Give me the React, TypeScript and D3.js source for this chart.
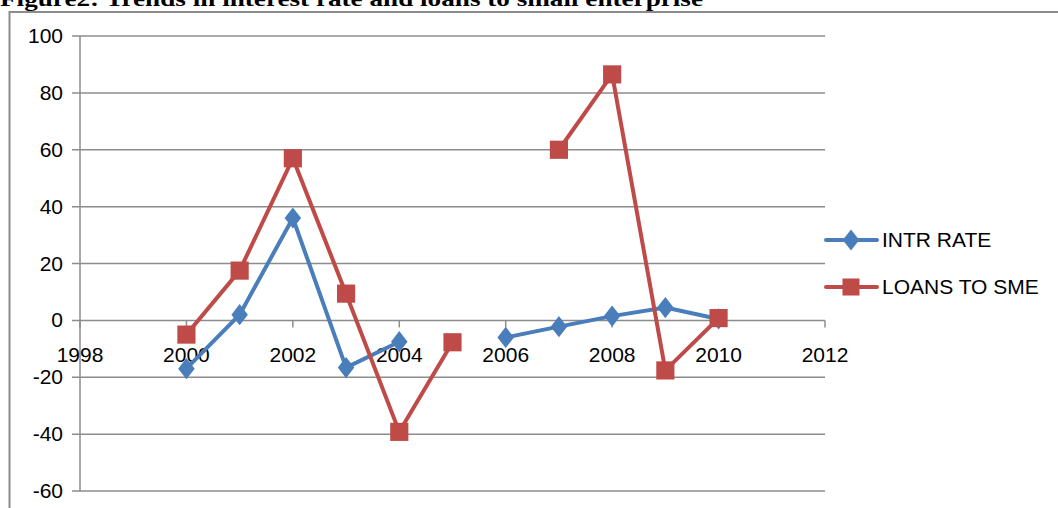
import { useEffect, useRef } from "react";
import * as d3 from "d3";

const years = [2000, 2001, 2002, 2003, 2004, 2005, 2006, 2007, 2008, 2009, 2010];
const intrRate: (number | null)[] = [-17, 2, 36, -16.6, -7.5, null, -6, -2.2, 1.5, 4.5, 0.5];
const loansToSme: (number | null)[] = [-5, 17.5, 57, 9.4, -39.2, -7.7, null, 60, 86.5, -17.6, 0.8];
const xTicks = [1998, 2000, 2002, 2004, 2006, 2008, 2010, 2012];
const yTicks = [-60, -40, -20, 0, 20, 40, 60, 80, 100];

const W = 1058,
  H = 508;
const BLUE = "#4a7ebb";
const RED = "#be4b48";
const GRID = "#8c8c8c";
const FONT = "'Liberation Sans', Arial, sans-serif";

const Chart = () => {
  const ref = useRef<SVGSVGElement>(null);

  useEffect(() => {
    const svg = d3.select(ref.current);
    svg.selectAll("*").remove();

    const x = d3.scaleLinear().domain([1998, 2012]).range([80, 825]);
    const y = d3.scaleLinear().domain([-60, 100]).range([491, 36]);

    // title (cut off at top, as in the scan)
    svg
      .append("text")
      .attr("x", 0)
      .attr("y", 6)
      .attr("font-family", "'Liberation Serif', 'Times New Roman', serif")
      .attr("font-weight", "bold")
      .attr("font-size", 22)
      .attr("textLength", 703)
      .attr("lengthAdjust", "spacingAndGlyphs")
      .text("Figure2: Trends in interest rate and loans to small enterprise");

    // outer chart border (top + left)
    svg
      .append("path")
      .attr("d", `M9.5,${H} V12 H${W}`)
      .attr("fill", "none")
      .attr("stroke", GRID)
      .attr("stroke-width", 2);

    // gridlines
    svg
      .append("g")
      .selectAll("line")
      .data(yTicks)
      .enter()
      .append("line")
      .attr("x1", 72)
      .attr("x2", 825)
      .attr("y1", (d) => y(d))
      .attr("y2", (d) => y(d))
      .attr("stroke", GRID)
      .attr("stroke-width", 1.5);

    // y axis line
    svg
      .append("line")
      .attr("x1", 80)
      .attr("x2", 80)
      .attr("y1", y(100))
      .attr("y2", y(-60))
      .attr("stroke", GRID)
      .attr("stroke-width", 1.5);

    // y labels
    svg
      .append("g")
      .selectAll("text")
      .data(yTicks)
      .enter()
      .append("text")
      .attr("x", 63)
      .attr("y", (d) => y(d) + 7)
      .attr("text-anchor", "end")
      .attr("font-family", FONT)
      .attr("font-size", 21)
      .attr("fill", "#000")
      .text((d) => d);

    // x tick marks on the zero line
    svg
      .append("g")
      .selectAll("line")
      .data(xTicks)
      .enter()
      .append("line")
      .attr("x1", (d) => x(d))
      .attr("x2", (d) => x(d))
      .attr("y1", y(0))
      .attr("y2", y(0) + 7)
      .attr("stroke", GRID)
      .attr("stroke-width", 1.5);

    // x labels
    svg
      .append("g")
      .selectAll("text")
      .data(xTicks)
      .enter()
      .append("text")
      .attr("x", (d) => x(d))
      .attr("y", y(0) + 42)
      .attr("text-anchor", "middle")
      .attr("font-family", FONT)
      .attr("font-size", 21)
      .attr("fill", "#000")
      .text((d) => d);

    const drawSeries = (vals: (number | null)[], color: string, marker: "diamond" | "square") => {
      const pts = years.map((yr, i) => ({ yr, v: vals[i] }));
      const line = d3
        .line<{ yr: number; v: number | null }>()
        .defined((d) => d.v !== null)
        .x((d) => x(d.yr))
        .y((d) => y(d.v as number));
      svg
        .append("path")
        .datum(pts)
        .attr("fill", "none")
        .attr("stroke", color)
        .attr("stroke-width", 4)
        .attr("stroke-linejoin", "round")
        .attr("stroke-linecap", "round")
        .attr("d", line);

      const sym = d3
        .symbol()
        .type(marker === "diamond" ? d3.symbolDiamond : d3.symbolSquare)
        .size(marker === "diamond" ? 130 : 330);
      svg
        .append("g")
        .selectAll("path")
        .data(pts.filter((d) => d.v !== null))
        .enter()
        .append("path")
        .attr("d", sym)
        .attr("transform", (d) =>
          marker === "diamond"
            ? `translate(${x(d.yr)},${y(d.v as number)}) scale(1.35,1)`
            : `translate(${x(d.yr)},${y(d.v as number)})`
        )
        .attr("fill", color);
    };

    drawSeries(intrRate, BLUE, "diamond");
    drawSeries(loansToSme, RED, "square");

    // legend
    const legend = [
      { name: "INTR RATE", color: BLUE, marker: "diamond", yy: 240 },
      { name: "LOANS TO SME", color: RED, marker: "square", yy: 287 },
    ];
    legend.forEach((l) => {
      svg
        .append("line")
        .attr("x1", 826)
        .attr("x2", 877)
        .attr("y1", l.yy)
        .attr("y2", l.yy)
        .attr("stroke", l.color)
        .attr("stroke-width", 4)
        .attr("stroke-linecap", "round");
      const sym = d3
        .symbol()
        .type(l.marker === "diamond" ? d3.symbolDiamond : d3.symbolSquare)
        .size(l.marker === "diamond" ? 130 : 290);
      svg
        .append("path")
        .attr("d", sym)
        .attr(
          "transform",
          l.marker === "diamond" ? `translate(851,${l.yy}) scale(1.35,1)` : `translate(851,${l.yy})`
        )
        .attr("fill", l.color);
      svg
        .append("text")
        .attr("x", 882)
        .attr("y", l.yy + 7)
        .attr("font-family", FONT)
        .attr("font-size", 21)
        .attr("fill", "#000")
        .text(l.name);
    });
  }, []);

  return <svg ref={ref} width={W} height={H} style={{ display: "block" }} />;
};

export default function App() {
  return (
    <div style={{ position: "absolute", left: 0, top: 0, background: "#fff" }}>
      <Chart />
    </div>
  );
}
